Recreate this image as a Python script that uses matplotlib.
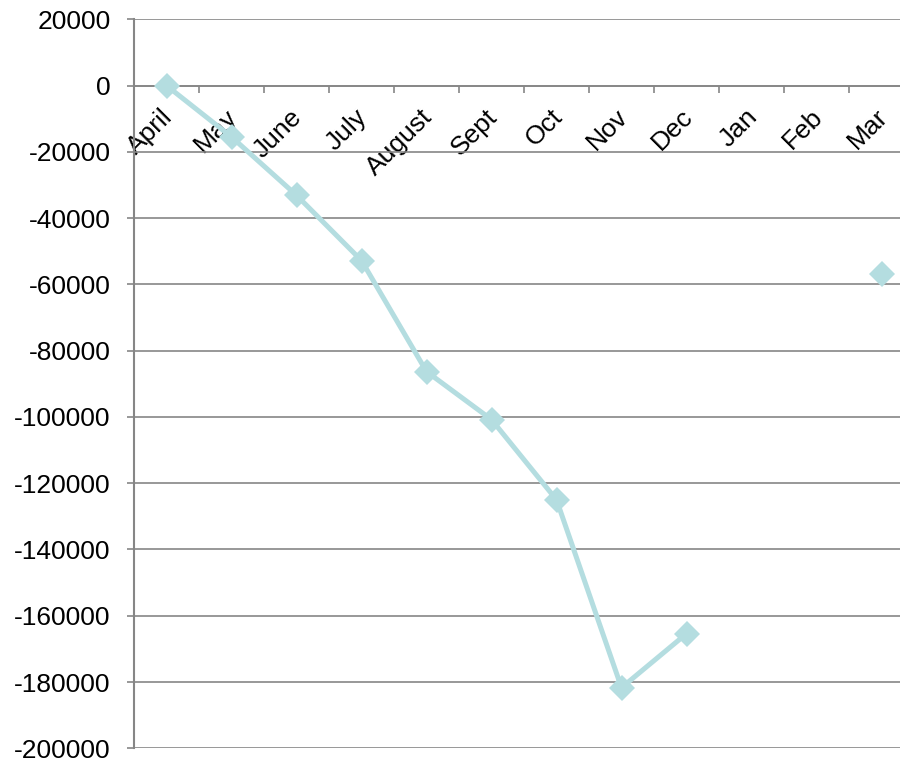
import numpy as np
import matplotlib
matplotlib.use("Agg")
import matplotlib.pyplot as plt
import matplotlib.transforms as mtransforms

plt.rcParams['font.family'] = ['Liberation Sans', 'DejaVu Sans']

# monthly values, April through March (Jan/Feb have no data)
months = ["April", "May", "June", "July", "August", "Sept", "Oct",
          "Nov", "Dec", "Jan", "Feb", "Mar"]
values = [0, -15500, -33100, -52800, -86300, -100800, -125000,
          -181700, -165400, np.nan, np.nan, -57000]
yticks = list(range(-200000, 20001, 20000))

grid_color = "#868686"
line_color = "#B4DDE0"

fig = plt.figure(figsize=(9, 7.61), dpi=100)
ax = fig.add_axes([134 / 900, 12.7 / 761, 780 / 900, 729 / 761])

x = np.arange(len(months))
ax.plot(x, values, color=line_color, linewidth=3.6, marker="D",
        markersize=13.5, markeredgewidth=0, solid_joinstyle="round", zorder=3)

ax.set_xlim(-0.5, len(months) - 0.5)
ax.set_ylim(-200000, 20000)
ax.set_yticks(yticks)
ax.set_yticklabels([str(v) for v in yticks])
ax.yaxis.grid(True, color=grid_color, linewidth=1.2)
ax.set_axisbelow(True)

# x axis sits on the zero line
for side in ["top", "right"]:
    ax.spines[side].set_visible(False)
ax.spines["bottom"].set_position(("data", 0))
ax.spines["bottom"].set_color(grid_color)
ax.spines["bottom"].set_linewidth(1.2)
ax.spines["left"].set_color(grid_color)
ax.spines["left"].set_linewidth(1.5)

ax.set_xticks(x)
ax.set_xticklabels(months)
ax.set_xticks(np.arange(0.5, len(months) - 0.5, 1), minor=True)
ax.tick_params(axis="x", which="major", length=0, pad=20, labelsize=19)
ax.tick_params(axis="x", which="minor", length=5, width=1.2,
               color=grid_color, direction="out")
ax.tick_params(axis="y", length=5, width=1.2, color=grid_color,
               pad=12, labelsize=19)

shift = mtransforms.ScaledTranslation(1.5 / 72, 0, fig.dpi_scale_trans)
for lbl in ax.get_xticklabels():
    lbl.set_rotation(45)
    lbl.set_rotation_mode("anchor")
    lbl.set_ha("right")
    lbl.set_va("center")
    lbl.set_transform(lbl.get_transform() + shift)

fig.savefig("out.png", dpi=100)
